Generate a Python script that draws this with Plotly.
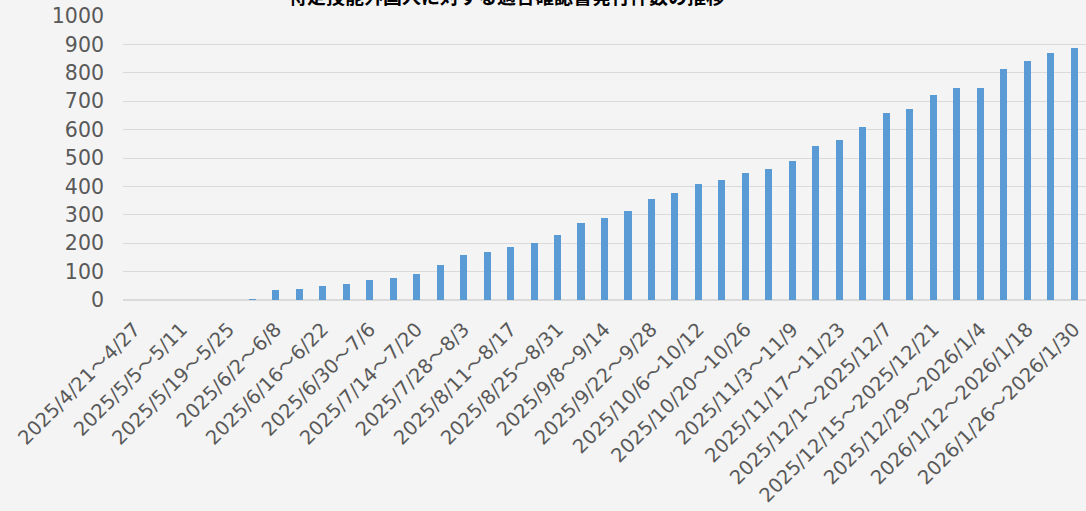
import plotly.graph_objects as go

weeks = [
    "2025/4/21～4/27", "2025/4/28～5/4", "2025/5/5～5/11", "2025/5/12～5/18",
    "2025/5/19～5/25", "2025/5/26～6/1", "2025/6/2～6/8", "2025/6/9～6/15",
    "2025/6/16～6/22", "2025/6/23～6/29", "2025/6/30～7/6", "2025/7/7～7/13",
    "2025/7/14～7/20", "2025/7/21～7/27", "2025/7/28～8/3", "2025/8/4～8/10",
    "2025/8/11～8/17", "2025/8/18～8/24", "2025/8/25～8/31", "2025/9/1～9/7",
    "2025/9/8～9/14", "2025/9/15～9/21", "2025/9/22～9/28", "2025/9/29～10/5",
    "2025/10/6～10/12", "2025/10/13～10/19", "2025/10/20～10/26", "2025/10/27～11/2",
    "2025/11/3～11/9", "2025/11/10～11/16", "2025/11/17～11/23", "2025/11/24～11/30",
    "2025/12/1～2025/12/7", "2025/12/8～2025/12/14", "2025/12/15～2025/12/21",
    "2025/12/22～2025/12/28", "2025/12/29～2026/1/4", "2026/1/5～2026/1/11",
    "2026/1/12～2026/1/18", "2026/1/19～2026/1/25", "2026/1/26～2026/1/30",
]

counts = [
    0, 0, 0, 0, 0, 2, 35, 39, 50, 56, 70, 78, 93, 122, 158, 170, 186, 200,
    228, 270, 288, 314, 355, 378, 409, 424, 448, 463, 490, 541, 565, 609,
    657, 672, 723, 745, 745, 812, 840, 869, 886,
]

y_ticks = [0, 100, 200, 300, 400, 500, 600, 700, 800, 900, 1000]
title_text = "特定技能外国人に対する適合確認書発行件数の推移"

bg = "#f4f4f4"
grid = "#dadada"
label_color = "#595959"

fig = go.Figure(
    go.Bar(
        x=weeks,
        y=counts,
        width=0.3,
        marker=dict(color="#5b9bd5", line=dict(width=0)),
    )
)

fig.update_layout(
    width=1086,
    height=511,
    margin=dict(l=123, r=0, t=15.6, b=210.5),
    paper_bgcolor=bg,
    plot_bgcolor=bg,
    showlegend=False,
    font=dict(family="DejaVu Sans, Noto Sans CJK JP", color=label_color, size=20),
    bargap=0,
)

fig.update_xaxes(
    type="category",
    range=[-0.5, len(weeks) - 0.5],
    tickmode="array",
    tickvals=weeks[::2],
    ticktext=weeks[::2],
    tickangle=-45,
    tickfont=dict(size=19.5, color=label_color),
    showgrid=False,
    showline=False,
    ticks="",
    ticklabelstandoff=13,
    automargin=False,
)

fig.update_yaxes(
    range=[0, 1000],
    tickmode="array",
    tickvals=y_ticks,
    tickfont=dict(size=20.5, color=label_color),
    showgrid=True,
    gridcolor=grid,
    gridwidth=1,
    zeroline=True,
    zerolinecolor=grid,
    zerolinewidth=2,
    ticks="",
    ticklabelstandoff=18,
    automargin=False,
)

fig.add_annotation(
    text="<b>" + title_text + "</b>",
    xref="paper",
    yref="paper",
    x=(506 - 123) / (1086 - 123),
    y=1.017,
    xanchor="center",
    yanchor="bottom",
    showarrow=False,
    font=dict(family="Noto Sans CJK JP", size=19, color="#000000"),
)

fig.write_html("out.html")
